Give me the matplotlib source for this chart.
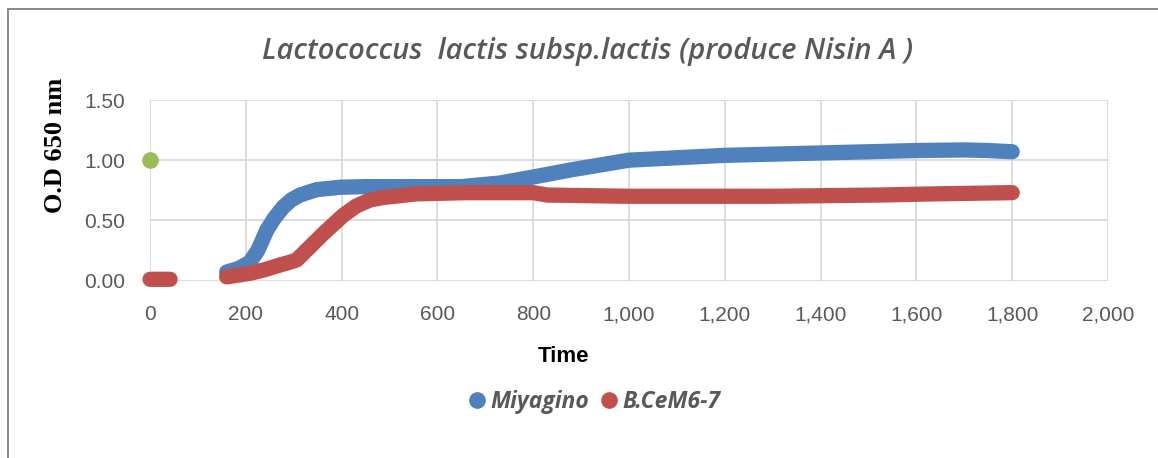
import numpy as np
import matplotlib
matplotlib.use('Agg')
from matplotlib import pyplot as plt
from matplotlib.lines import Line2D
from matplotlib.patches import Rectangle

# ---- data ----
blue_time = [160, 185, 208, 225, 244, 260, 278, 295, 313, 348, 397, 450, 550,
             650, 730, 800, 880, 940, 1000, 1100, 1200, 1300, 1400, 1500,
             1600, 1700, 1750, 1800]
blue_od = [0.07, 0.10, 0.15, 0.25, 0.42, 0.52, 0.61, 0.67, 0.71, 0.755, 0.775,
           0.78, 0.78, 0.78, 0.81, 0.86, 0.92, 0.96, 1.00, 1.02, 1.04, 1.05,
           1.06, 1.07, 1.08, 1.085, 1.08, 1.07]

red_time = [0, 10, 20, 30, 42, np.nan,
            160, 209, 240, 264, 290, 306, 334, 362, 403, 431, 460, 487, 557,
            661, 800, 830, 1000, 1300, 1520, 1640, 1800]
red_od = [0.01, 0.01, 0.01, 0.01, 0.01, np.nan,
          0.03, 0.06, 0.09, 0.12, 0.15, 0.17, 0.28, 0.39, 0.54, 0.62, 0.67,
          0.69, 0.72, 0.73, 0.73, 0.71, 0.70, 0.70, 0.71, 0.72, 0.73]

green_time = [0]
green_od = [1.0]

series_names = ['Miyagino', 'B.CeM6-7']
x_ticks = [0, 200, 400, 600, 800, 1000, 1200, 1400, 1600, 1800, 2000]
y_ticks = [0.0, 0.5, 1.0, 1.5]

BLUE = '#4F81BD'
RED = '#C0504D'
GREEN = '#9BBB59'
GREY = '#595959'

fig = plt.figure(figsize=(11.58, 4.58), dpi=100)
ax = fig.add_axes([150 / 1158, 1 - 280.5 / 458, 958 / 1158, 180.5 / 458])

ax.plot(blue_time, blue_od, color=BLUE, lw=11, solid_capstyle='round',
        solid_joinstyle='round', zorder=3, clip_on=False)
ax.plot(red_time, red_od, color=RED, lw=11, solid_capstyle='round',
        solid_joinstyle='round', zorder=4, clip_on=False)
ax.plot(green_time, green_od, 'o', color=GREEN, ms=11, zorder=4, clip_on=False)

ax.set_xlim(0, 2000)
ax.set_ylim(0, 1.5)
ax.set_xticks(x_ticks)
ax.set_xticklabels([f'{t:,}' for t in x_ticks])
ax.set_yticks(y_ticks)
ax.set_yticklabels([f'{v:.2f}' for v in y_ticks])
ax.grid(True, color='#D9D9D9', lw=1.3)
ax.set_axisbelow(True)
for s in ax.spines.values():
    s.set_visible(False)
ax.tick_params(length=0, labelsize=15, labelcolor=GREY)
ax.tick_params(axis='x', pad=18)
ax.tick_params(axis='y', pad=18)
for lab in ax.get_xticklabels() + ax.get_yticklabels():
    lab.set_family('Liberation Sans')

fig.text(564 / 1158, 1 - 356 / 458, 'Time', fontsize=16, fontweight='bold',
         family='Liberation Sans', ha='center', va='center')
fig.text(55 / 1158, 1 - 145 / 458, 'O.D 650 nm', rotation=90, fontsize=19,
         fontweight='bold', family='Liberation Serif', ha='center', va='center')
fig.text(588 / 1158, 1 - 52 / 458,
         'Lactococcus  lactis subsp.lactis (produce Nisin A )',
         fontsize=21, style='italic', weight='semibold', color=GREY,
         family='Open Sans', ha='center', va='center')

handles = [Line2D([], [], ls='none', marker='o', ms=11, color=BLUE),
           Line2D([], [], ls='none', marker='o', ms=11, color=RED)]
leg = fig.legend(handles, series_names, loc='center',
                 bbox_to_anchor=(593 / 1158, 1 - 402 / 458), ncol=2,
                 frameon=False, handletextpad=0.1, columnspacing=0.35,
                 handlelength=1.0,
                 prop={'family': 'Open Sans', 'weight': 'bold',
                       'style': 'italic', 'size': 16.5})
for t in leg.get_texts():
    t.set_color(GREY)

fig.patches.append(Rectangle((8 / 1158, -0.1), 1.2, 1 - 9 / 458 + 0.1,
                             transform=fig.transFigure, fill=False,
                             edgecolor='#808080', lw=1.3))

fig.savefig('out.png', dpi=100)
